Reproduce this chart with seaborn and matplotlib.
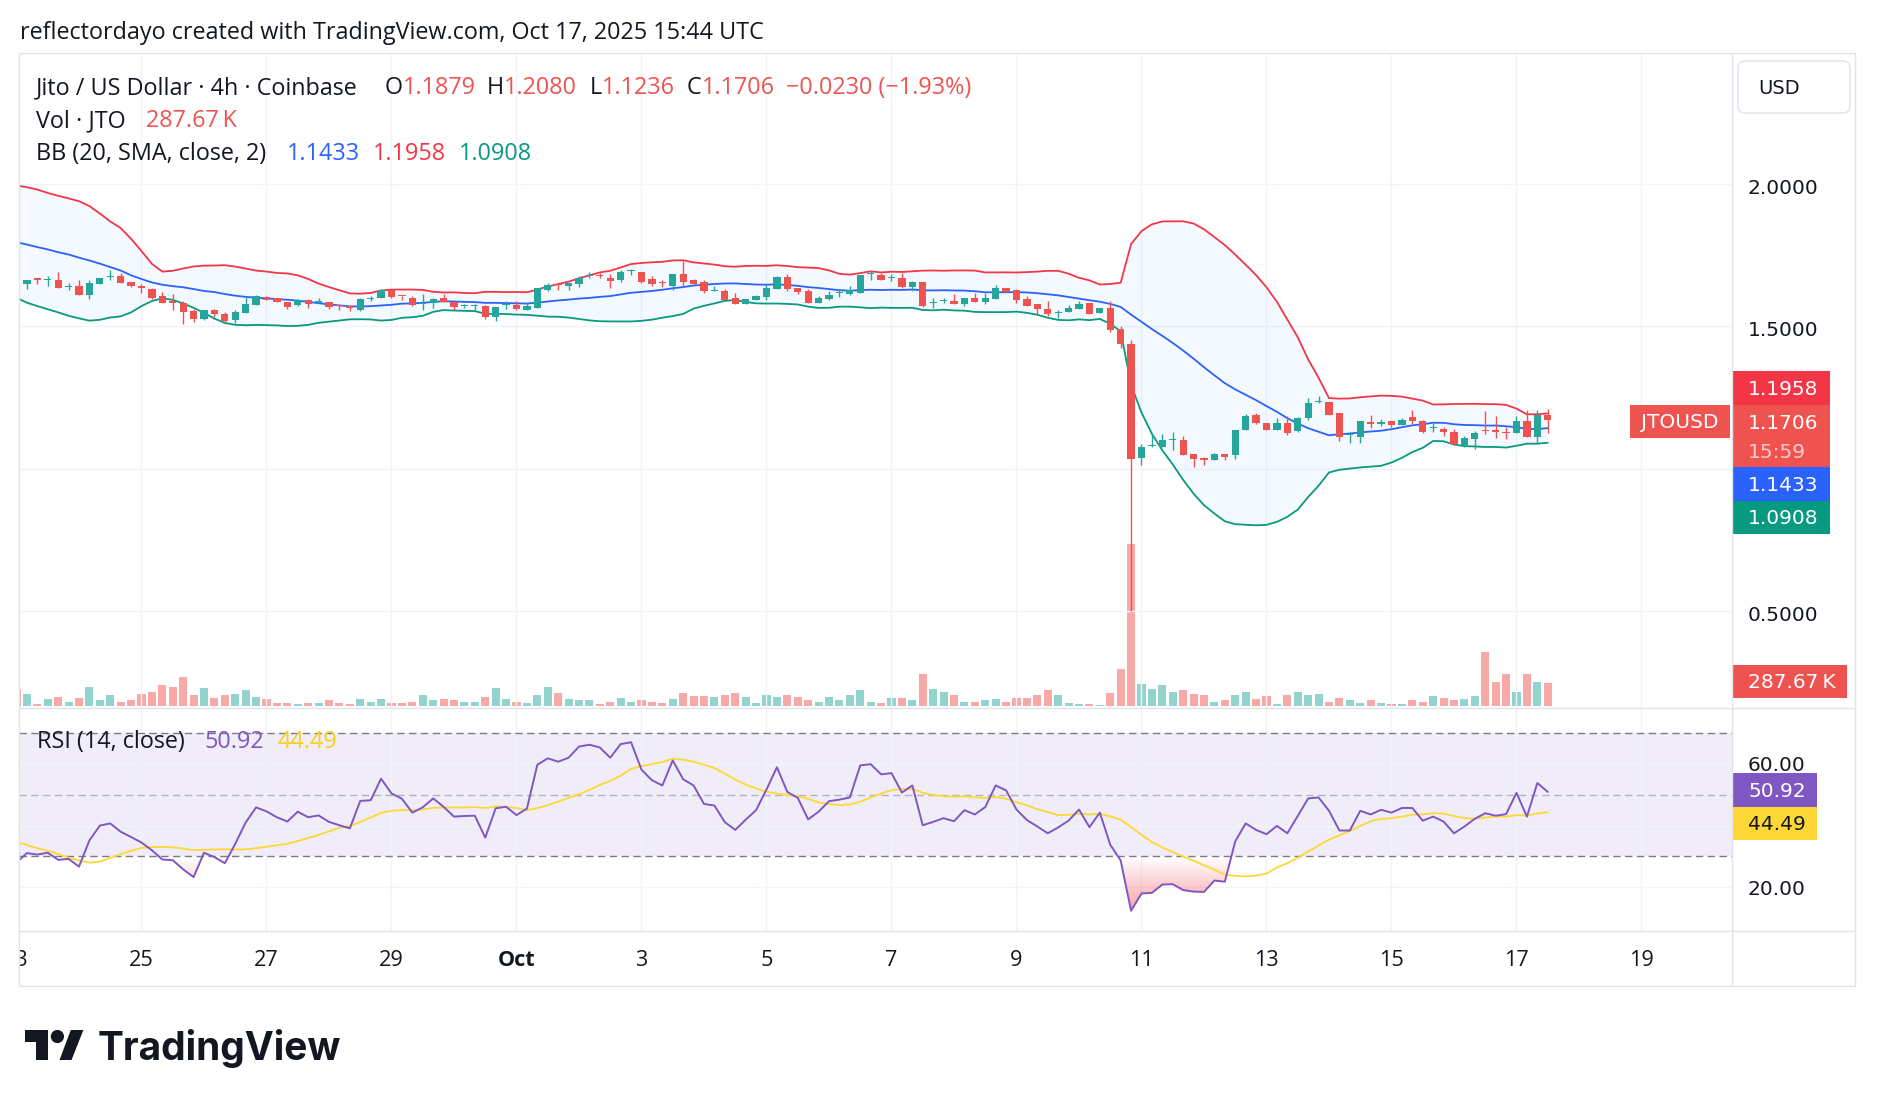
import matplotlib

matplotlib.use("Agg")
import matplotlib.dates as mdates
import matplotlib.pyplot as plt
import numpy as np
import pandas as pd
import seaborn as sns
from matplotlib.colors import to_rgb
from matplotlib.lines import Line2D
from matplotlib.patches import Circle, FancyBboxPatch, PathPatch, Polygon, Rectangle
from matplotlib.path import Path
from matplotlib.transforms import IdentityTransform, ScaledTranslation

W, H = 1878, 1106

# ---- data: JTO/USD 4h candles, Sep 23 00:00 -> Oct 17 12:00 (UTC) ----
start = "2025-09-23 00:00"
opens = [
    1.660, 1.646, 1.667, 1.660, 1.661, 1.637, 1.639, 1.609, 1.648, 1.672,
    1.676, 1.655, 1.639, 1.631, 1.605, 1.588, 1.580, 1.552, 1.524, 1.555,
    1.544, 1.522, 1.546, 1.575, 1.603, 1.597, 1.583, 1.573, 1.591, 1.582,
    1.583, 1.575, 1.570, 1.557, 1.595, 1.597, 1.628, 1.607, 1.600, 1.576,
    1.582, 1.597, 1.585, 1.571, 1.572, 1.570, 1.532, 1.573, 1.574, 1.557,
    1.563, 1.626, 1.648, 1.640, 1.647, 1.674, 1.678, 1.670, 1.660, 1.694,
    1.689, 1.665, 1.654, 1.639, 1.682, 1.661, 1.655, 1.622, 1.624, 1.597,
    1.577, 1.592, 1.602, 1.631, 1.673, 1.634, 1.622, 1.581, 1.594, 1.616,
    1.613, 1.616, 1.682, 1.679, 1.667, 1.667, 1.637, 1.654, 1.580, 1.587,
    1.589, 1.578, 1.598, 1.583, 1.596, 1.633, 1.627, 1.594, 1.576, 1.561,
    1.546, 1.548, 1.560, 1.580, 1.546, 1.565, 1.488, 1.438, 1.038, 1.080,
    1.076, 1.099, 1.102, 1.050, 1.037, 1.029, 1.051, 1.047, 1.134, 1.189,
    1.161, 1.134, 1.161, 1.132, 1.177, 1.234, 1.235, 1.196, 1.118, 1.110,
    1.162, 1.157, 1.166, 1.154, 1.180, 1.168, 1.142, 1.139, 1.128, 1.083,
    1.103, 1.136, 1.134, 1.130, 1.126, 1.167, 1.112, 1.1879,
]
highs = [
    1.664, 1.663, 1.667, 1.674, 1.689, 1.651, 1.661, 1.660, 1.670, 1.696,
    1.685, 1.655, 1.649, 1.633, 1.618, 1.614, 1.588, 1.560, 1.557, 1.560,
    1.548, 1.556, 1.602, 1.609, 1.605, 1.600, 1.583, 1.595, 1.595, 1.598,
    1.583, 1.575, 1.571, 1.597, 1.604, 1.630, 1.630, 1.607, 1.604, 1.611,
    1.597, 1.611, 1.587, 1.579, 1.577, 1.575, 1.568, 1.587, 1.587, 1.582,
    1.635, 1.650, 1.648, 1.652, 1.676, 1.688, 1.685, 1.682, 1.696, 1.700,
    1.689, 1.674, 1.660, 1.682, 1.728, 1.665, 1.661, 1.639, 1.630, 1.615,
    1.594, 1.608, 1.643, 1.674, 1.682, 1.634, 1.630, 1.604, 1.622, 1.630,
    1.639, 1.678, 1.694, 1.686, 1.682, 1.686, 1.657, 1.654, 1.597, 1.598,
    1.611, 1.597, 1.615, 1.615, 1.643, 1.635, 1.629, 1.604, 1.576, 1.587,
    1.558, 1.573, 1.587, 1.580, 1.565, 1.587, 1.500, 1.452, 1.086, 1.120,
    1.120, 1.127, 1.115, 1.050, 1.040, 1.055, 1.052, 1.137, 1.192, 1.194,
    1.161, 1.178, 1.183, 1.180, 1.246, 1.256, 1.235, 1.196, 1.130, 1.167,
    1.189, 1.175, 1.167, 1.176, 1.207, 1.171, 1.160, 1.146, 1.139, 1.113,
    1.132, 1.203, 1.183, 1.147, 1.185, 1.205, 1.204, 1.2080,
]
lows = [
    1.652, 1.631, 1.648, 1.640, 1.634, 1.627, 1.609, 1.594, 1.648, 1.662,
    1.651, 1.637, 1.617, 1.596, 1.580, 1.557, 1.507, 1.514, 1.522, 1.531,
    1.507, 1.510, 1.546, 1.573, 1.592, 1.583, 1.560, 1.571, 1.565, 1.580,
    1.559, 1.557, 1.553, 1.553, 1.588, 1.597, 1.600, 1.590, 1.570, 1.557,
    1.563, 1.583, 1.558, 1.563, 1.558, 1.526, 1.518, 1.560, 1.557, 1.557,
    1.563, 1.622, 1.627, 1.628, 1.637, 1.667, 1.670, 1.634, 1.655, 1.679,
    1.650, 1.639, 1.636, 1.628, 1.638, 1.646, 1.616, 1.622, 1.592, 1.577,
    1.577, 1.592, 1.591, 1.631, 1.623, 1.613, 1.581, 1.581, 1.590, 1.602,
    1.609, 1.616, 1.662, 1.662, 1.657, 1.633, 1.623, 1.566, 1.565, 1.582,
    1.578, 1.569, 1.585, 1.576, 1.596, 1.621, 1.581, 1.570, 1.544, 1.536,
    1.527, 1.548, 1.560, 1.544, 1.546, 1.479, 1.423, 0.501, 1.013, 1.074,
    1.076, 1.065, 1.047, 1.006, 1.013, 1.029, 1.029, 1.034, 1.134, 1.156,
    1.134, 1.134, 1.119, 1.130, 1.171, 1.229, 1.188, 1.098, 1.088, 1.088,
    1.142, 1.150, 1.147, 1.154, 1.156, 1.125, 1.128, 1.116, 1.084, 1.076,
    1.068, 1.122, 1.108, 1.103, 1.126, 1.110, 1.088, 1.1236,
]
closes = [
    1.657, 1.663, 1.662, 1.665, 1.634, 1.641, 1.609, 1.650, 1.670, 1.676,
    1.651, 1.640, 1.633, 1.599, 1.580, 1.582, 1.550, 1.525, 1.555, 1.543,
    1.518, 1.548, 1.579, 1.604, 1.592, 1.583, 1.568, 1.591, 1.576, 1.587,
    1.568, 1.570, 1.563, 1.594, 1.599, 1.627, 1.602, 1.605, 1.573, 1.580,
    1.594, 1.583, 1.567, 1.575, 1.574, 1.532, 1.568, 1.577, 1.559, 1.569,
    1.633, 1.645, 1.643, 1.650, 1.670, 1.678, 1.675, 1.657, 1.689, 1.698,
    1.655, 1.648, 1.651, 1.682, 1.655, 1.646, 1.624, 1.624, 1.592, 1.577,
    1.594, 1.604, 1.633, 1.671, 1.631, 1.619, 1.581, 1.598, 1.610, 1.620,
    1.625, 1.678, 1.685, 1.662, 1.670, 1.637, 1.653, 1.569, 1.584, 1.590,
    1.578, 1.597, 1.585, 1.598, 1.633, 1.621, 1.592, 1.570, 1.560, 1.541,
    1.551, 1.563, 1.576, 1.544, 1.565, 1.485, 1.437, 1.034, 1.076, 1.082,
    1.102, 1.102, 1.047, 1.034, 1.030, 1.052, 1.040, 1.134, 1.186, 1.159,
    1.137, 1.161, 1.126, 1.177, 1.231, 1.237, 1.188, 1.110, 1.122, 1.167,
    1.157, 1.162, 1.154, 1.170, 1.166, 1.128, 1.145, 1.127, 1.086, 1.108,
    1.125, 1.132, 1.128, 1.126, 1.167, 1.110, 1.1879, 1.1706,
]
volumes_k = [
    204, 154, 33, 83, 108, 58, 96, 229, 71, 133,
    58, 71, 154, 179, 254, 229, 350, 142, 217, 96,
    133, 154, 192, 108, 83, 46, 46, 33, 46, 46,
    71, 46, 33, 83, 58, 83, 46, 46, 58, 142,
    71, 83, 71, 58, 58, 108, 217, 83, 58, 46,
    142, 229, 167, 83, 71, 71, 33, 58, 96, 58,
    71, 58, 46, 83, 167, 121, 121, 108, 142, 167,
    108, 46, 142, 108, 133, 108, 71, 58, 108, 71,
    142, 192, 58, 46, 96, 96, 71, 388, 204, 179,
    133, 58, 58, 71, 83, 58, 96, 96, 133, 192,
    133, 46, 33, 33, 21, 167, 446, 1964, 275, 204,
    254, 179, 192, 154, 133, 58, 71, 133, 179, 83,
    121, 33, 142, 179, 142, 154, 58, 96, 71, 46,
    71, 46, 33, 33, 71, 58, 121, 96, 71, 83,
    121, 663, 300, 388, 179, 396, 300, 287.67,
]
rsi_values = [
    28.0, 31.1, 30.6, 31.2, 28.9, 29.2, 26.7, 35.2, 40.0, 40.7,
    38.0, 36.3, 34.5, 32.0, 29.0, 28.8, 25.8, 23.3, 31.2, 29.8,
    27.8, 34.1, 41.0, 45.9, 44.6, 42.7, 41.3, 44.5, 42.7, 43.3,
    41.2, 40.1, 39.1, 48.0, 48.2, 55.2, 50.4, 48.7, 44.2, 45.9,
    48.8, 46.1, 42.9, 43.1, 43.2, 36.1, 45.6, 46.1, 43.4, 45.5,
    59.7, 61.8, 60.7, 62.0, 65.6, 66.2, 65.3, 62.0, 66.4, 67.0,
    58.1, 54.7, 53.0, 61.1, 55.0, 53.0, 47.0, 46.5, 41.1, 38.6,
    41.9, 45.0, 51.7, 58.9, 50.9, 49.0, 42.0, 44.5, 47.9, 48.4,
    49.1, 59.5, 59.9, 56.6, 57.0, 50.7, 53.0, 40.1, 41.2, 42.4,
    41.4, 45.0, 43.6, 46.0, 53.0, 51.4, 45.2, 41.8, 39.7, 37.5,
    39.4, 41.6, 45.2, 39.5, 44.2, 33.8, 28.7, 12.4, 18.0, 18.2,
    20.9, 21.0, 19.1, 18.6, 18.5, 22.2, 21.8, 34.9, 40.7, 38.6,
    37.2, 39.9, 37.5, 43.1, 48.8, 49.1, 44.8, 38.4, 38.4, 44.8,
    43.6, 45.1, 44.2, 45.7, 45.7, 41.6, 42.9, 41.3, 37.5, 39.7,
    42.2, 44.0, 43.2, 43.7, 50.6, 42.9, 53.8, 50.92,
]
# indicator values before a full window exists
bb_basis_head = [
    1.794, 1.786, 1.777, 1.769, 1.759, 1.751, 1.740, 1.730, 1.719, 1.707,
    1.695, 1.678, 1.665, 1.653, 1.645, 1.640, 1.636, 1.630, 1.623,
]
bb_upper_head = [
    1.993, 1.987, 1.979, 1.967, 1.957, 1.948, 1.938, 1.921, 1.895, 1.867,
    1.844, 1.806, 1.763, 1.718, 1.691, 1.694, 1.702, 1.709, 1.712,
]
bb_lower_head = [
    1.599, 1.582, 1.570, 1.559, 1.548, 1.536, 1.527, 1.519, 1.522, 1.530,
    1.534, 1.548, 1.570, 1.588, 1.597, 1.592, 1.579, 1.564, 1.546,
]
rsi_ma_head = [34.7, 33.7, 32.7, 31.8, 30.8, 29.6, 28.7, 28.0, 28.3, 29.5, 30.7, 31.8, 32.8]

tick_dates = [
    "2025-09-23", "2025-09-25", "2025-09-27", "2025-09-29", "2025-10-01",
    "2025-10-03", "2025-10-05", "2025-10-07", "2025-10-09", "2025-10-11",
    "2025-10-13", "2025-10-15", "2025-10-17", "2025-10-19",
]
tick_labels = ["23", "25", "27", "29", "Oct", "3", "5", "7", "9", "11", "13", "15", "17", "19"]

UP, DOWN = "#26A69A", "#EF5350"
VOL_UP, VOL_DOWN = "#92D3CD", "#F7A9A7"
BB_MID, BB_TOP, BB_BOT = "#2962FF", "#F23645", "#089981"
RSI_C, RSI_MA_C = "#7E57C2", "#FDD835"
GRID, BORDER, TEXT = "#F0F3FA", "#E0E3EB", "#131722"
UI_FONT = ["Open Sans", "DejaVu Sans"]
NUM_FONT = ["DejaVu Sans"]
UI_SIZE = 16.8
AXIS_SIZE = 15.6


def fx(x: float) -> float:
    return x / W


def fy(y: float) -> float:
    return 1 - y / H


def pixelText(x, y, s, **kw):
    kw.setdefault("va", "center")
    kw.setdefault("family", UI_FONT)
    kw.setdefault("fontsize", UI_SIZE)
    return fig.text(fx(x), fy(y), s, **kw)


def textRun(x, y, parts, **kw) -> None:
    # draw coloured pieces one after another on a single line
    renderer = fig.canvas.get_renderer()
    for s, col in parts:
        t = pixelText(x, y, s, color=col, **kw)
        x += t.get_window_extent(renderer).width


def priceTag(x0, x1, y0, y1, color) -> None:
    fig.add_artist(
        Rectangle((x0, H - y1), x1 - x0, y1 - y0, transform=IdentityTransform(),
                  facecolor=color, edgecolor="none", zorder=5)
    )


sns.set_style("white")
plt.rcParams["font.family"] = UI_FONT

fig = plt.figure(figsize=(W / 100, H / 100), dpi=100)
fig.patch.set_facecolor("white")

L, R = 19, 1732
ax = fig.add_axes([fx(L), fy(708), (R - L) / W, (708 - 53) / H])
axRsi = fig.add_axes([fx(L), fy(931), (R - L) / W, (931 - 708) / H], sharex=ax)
axVol = ax.twinx()
ax.set_zorder(2)
axVol.set_zorder(1)
ax.patch.set_visible(False)

times = pd.date_range(start, periods=len(closes), freq="4h")
x = mdates.date2num(times.to_pydatetime())
o, h, l, c = map(np.array, (opens, highs, lows, closes))
up = c >= o

# bollinger bands (20, SMA, 2)
cs = pd.Series(c)
basis = cs.rolling(20).mean().to_numpy()
dev = cs.rolling(20).std(ddof=0).to_numpy()
upper, lower = basis + 2 * dev, basis - 2 * dev
n0 = len(bb_basis_head)
basis[:n0], upper[:n0], lower[:n0] = bb_basis_head, bb_upper_head, bb_lower_head

rsi = np.array(rsi_values)
rsiMa = pd.Series(rsi).rolling(14).mean().to_numpy()
rsiMa[: len(rsi_ma_head)] = rsi_ma_head

t0 = mdates.date2num(pd.Timestamp(start).to_pydatetime())
xlim = (t0 + (L - 16.5) / 62.5, t0 + (R - 16.5) / 62.5)

# ---- price panel ----
ax.fill_between(x, lower, upper, color="#2196F3", alpha=0.05, lw=0, zorder=1)
sns.lineplot(x=x, y=upper, ax=ax, color=BB_TOP, lw=1.3, zorder=2)
sns.lineplot(x=x, y=basis, ax=ax, color=BB_MID, lw=1.3, zorder=2)
sns.lineplot(x=x, y=lower, ax=ax, color=BB_BOT, lw=1.3, zorder=2)

candleColors = np.where(up, UP, DOWN)
ax.vlines(x, l, h, colors=candleColors, lw=1.0, zorder=3)
ax.bar(x, np.maximum(np.abs(c - o), 0.0035), bottom=np.minimum(o, c), width=0.117,
       color=candleColors, lw=0, zorder=4)

axVol.bar(x, volumes_k, width=0.13, color=np.where(up, VOL_UP, VOL_DOWN), lw=0)
axVol.set_ylim(-20, 7900)
axVol.set_yticks([])

ax.set_xlim(*xlim)
ax.set_ylim(0.16, 2.458)
ax.yaxis.tick_right()
ax.set_yticks([0.5, 1.0, 1.5, 2.0])
# 1.0000 sits under the indicator tags on the price scale
ax.set_yticklabels(["0.5000", "", "1.5000", "2.0000"], family=NUM_FONT, fontsize=14.5, color=TEXT)

# ---- RSI panel ----
axRsi.axhspan(30, 70, color=RSI_C, alpha=0.1, lw=0, zorder=0)
for lvl, a in ((70, 1.0), (50, 0.5), (30, 1.0)):
    axRsi.axhline(lvl, color="#787B86", alpha=a, lw=1.0, ls=(0, (5.3, 3.2)), zorder=1)

poly = axRsi.fill_between(x, rsi, 30, where=rsi < 30, interpolate=True, facecolor="none", edgecolor="none")
clip = PathPatch(Path.make_compound_path(*poly.get_paths()), transform=axRsi.transData,
                 facecolor="none", edgecolor="none")
axRsi.add_patch(clip)
grad = np.zeros((120, 1, 4))
grad[..., :3] = to_rgb("#F23645")
grad[:, 0, 3] = np.linspace(0.65, 0.0, 120)
axRsi.imshow(grad, extent=[x[0], x[-1], 5.84, 30], origin="lower", aspect="auto", zorder=2, clip_path=clip)

sns.lineplot(x=x, y=rsiMa, ax=axRsi, color=RSI_MA_C, lw=1.3, zorder=3)
sns.lineplot(x=x, y=rsi, ax=axRsi, color=RSI_C, lw=1.4, zorder=4)
axRsi.set_ylim(5.84, 78.1)
axRsi.yaxis.tick_right()
axRsi.set_yticks([20, 40, 60])
axRsi.set_yticklabels(["20.00", "", "60.00"], family=NUM_FONT, fontsize=14.5, color=TEXT)

tickX = mdates.date2num(pd.to_datetime(tick_dates).to_pydatetime())
for a in (ax, axRsi):
    a.set_xticks(tickX)
    a.tick_params(axis="x", labelbottom=False, length=0)
    a.tick_params(axis="y", length=0, pad=11.5)
    a.grid(True, color=GRID, lw=1.0)
    a.set_axisbelow(True)
    a.set_xlabel("")
    a.set_ylabel("")
    for s in a.spines.values():
        s.set_visible(False)
for s in axVol.spines.values():
    s.set_visible(False)
axRsi.set_xlim(*xlim)

# price scale numbers sit a little lower than matplotlib's centring
labelShift = ScaledTranslation(0, -2.5 / 100, fig.dpi_scale_trans)
for tk in ax.yaxis.get_major_ticks():
    tk.label2.set_transform(tk.label2.get_transform() + labelShift)

# ---- time axis ----
axTime = fig.add_axes([fx(L), fy(986), (R - L) / W, (986 - 931) / H])
axTime.set_xlim(*xlim)
axTime.set_ylim(0, 1)
axTime.axis("off")
for tx, lbl in zip(tickX, tick_labels):
    axTime.text(tx, 0.47, lbl, ha="center", va="center", fontsize=AXIS_SIZE, color=TEXT, clip_on=True,
                fontweight="bold" if lbl == "Oct" else "normal")

# ---- frame ----
for (x0, y0, x1, y1) in ((L, 53, 1855, 53), (L, 708, 1855, 708), (L, 931, 1855, 931),
                         (L, 986, 1855, 986), (L, 53, L, 986), (R, 53, R, 986), (1855, 53, 1855, 986)):
    fig.add_artist(Line2D([fx(x0), fx(x1)], [fy(y0), fy(y1)], color=BORDER, lw=1.0, zorder=6))

# ---- header texts ----
pixelText(20, 33, "reflectordayo created with TradingView.com, Oct 17, 2025 15:44 UTC", color=TEXT)
pixelText(36, 88, "Jito / US Dollar · 4h · Coinbase", color=TEXT)
for gx, letter, val in ((384.5, "O", "1.1879"), (486.5, "H", "1.2080"), (590, "L", "1.1236"), (687, "C", "1.1706")):
    textRun(gx, 88, [(letter, TEXT), (val, DOWN)])
pixelText(785.5, 88, "\u22120.0230 (\u22121.93%)", color=DOWN)
pixelText(36, 121, "Vol · JTO", color=TEXT)
pixelText(146.5, 121, "287.67\u2009K", color=DOWN)
pixelText(36, 154.5, "BB (20, SMA, close, 2)", color=TEXT)
pixelText(287, 154.5, "1.1433", color=BB_MID)
pixelText(373, 154.5, "1.1958", color=BB_TOP)
pixelText(459, 154.5, "1.0908", color=BB_BOT)
pixelText(37, 742, "RSI (14, close)", color=TEXT)
pixelText(204, 742, "50.92", color=RSI_C)
pixelText(278, 742, "44.49", color="#F9CE1D")

# ---- price scale tags ----
fig.add_artist(FancyBboxPatch((1738, H - 113), 112, 52, boxstyle="round,pad=0,rounding_size=7",
                              transform=IdentityTransform(), facecolor="white", edgecolor=BORDER, lw=1.0))
pixelText(1758, 88, "USD", fontsize=14, color=TEXT, family=NUM_FONT)
tags = [
    (371, 405, BB_TOP, "1.1958", 389.5),
    (405, 466.5, DOWN, "1.1706", 423.5),
    (466.5, 500.5, BB_MID, "1.1433", 485.5),
    (500.5, 534, BB_BOT, "1.0908", 518.5),
]
for y0, y1, col, s, ty in tags:
    priceTag(R, 1830, y0, y1, col)
    pixelText(1748, ty, s, fontsize=14.5, color="white", family=NUM_FONT, zorder=7)
pixelText(1748, 452.5, "15:59", fontsize=14.5, color="white", alpha=0.7, family=NUM_FONT, zorder=7)
priceTag(R, 1847, 665, 698, DOWN)
pixelText(1748, 683, "287.67\u2009K", fontsize=14.5, color="white", family=NUM_FONT, zorder=7)
priceTag(1630, 1730, 405, 438, DOWN)
pixelText(1680, 423, "JTOUSD", fontsize=14.5, color="white", family=NUM_FONT, ha="center", zorder=7)
priceTag(R, 1817, 773, 806.5, RSI_C)
pixelText(1748, 791.5, "50.92", fontsize=14.5, color="white", family=NUM_FONT, zorder=7)
priceTag(R, 1817, 806.5, 840, RSI_MA_C)
pixelText(1748, 825, "44.49", fontsize=14.5, color=TEXT, family=NUM_FONT, zorder=7)

# ---- TradingView logo ----
logoShapes = [
    Polygon([(24.5, H - 1030), (47.8, H - 1030), (47.8, H - 1060), (36.4, H - 1060),
             (36.4, H - 1041.5), (24.5, H - 1041.5)]),
    Circle((57.4, H - 1036.5), 6.6),
    Polygon([(70.8, H - 1030), (83.4, H - 1030), (71.5, H - 1060), (59.5, H - 1060)]),
]
for p in logoShapes:
    p.set_transform(IdentityTransform())
    p.set_facecolor(TEXT)
    p.set_edgecolor("none")
    fig.add_artist(p)
pixelText(98, 1048, "TradingView", fontsize=28, fontweight="bold", color=TEXT, family=["Inter", "DejaVu Sans"])

fig.savefig("out.png", dpi=100, facecolor="white")
